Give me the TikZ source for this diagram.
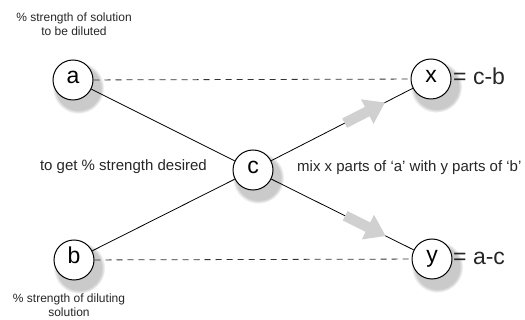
\documentclass[tikz,border=0pt]{standalone}
\usepackage{fontspec}
\setmainfont{Liberation Sans}
\usetikzlibrary{shadows,arrows.meta,calc}
\definecolor{arrowgray}{HTML}{D0D0D0}
\definecolor{dashgray}{HTML}{333333}
\tikzset{
  ball/.style={circle,draw=black,line width=1pt,fill=white,minimum size=40pt,inner sep=0pt,
    text height=12pt,text depth=4pt,font=\fontsize{23}{23}\selectfont,
    circular drop shadow={shadow xshift=4pt,shadow yshift=-6pt,shadow scale=1.3,opacity=0.42}},
  solid link/.style={line width=0.8pt,black},
  dash link/.style={line width=0.8pt,dashgray,dash pattern=on 6pt off 5pt},
  flow arrow/.style={line width=10.5pt,arrowgray,-{Triangle[width=26pt,length=20pt]}},
  smalltext/.style={font=\fontsize{12}{14.5}\selectfont,align=center,inner sep=0pt,text=black!85},
  midtext/.style={font=\fontsize{15}{17}\selectfont,inner sep=0pt,text=black!85},
  bigtext/.style={font=\fontsize{23}{23}\selectfont,inner sep=0pt,text=black!85}
}
\begin{document}
\begin{tikzpicture}[x=1pt,y=-1pt]
\useasboundingbox (0,0) rectangle (525,320);
\coordinate (pa) at (73,80);
\coordinate (pb) at (74,260);
\coordinate (pc) at (253,170);
\coordinate (px) at (431,79);
\coordinate (py) at (432,259);
\node[ball] (a) at (pa) {a};
\node[ball] (b) at (pb) {b};
\node[ball] (c) at (pc) {c};
\node[ball] (x) at (px) {x};
\node[ball] (y) at (py) {y};
\draw[dash link] (a) -- (x);
\draw[dash link] (b) -- (y);
\draw[solid link] (a) -- (c);
\draw[solid link] (b) -- (c);
\draw[solid link] (c) -- (x);
\draw[solid link] (c) -- (y);
\coordinate (s1) at ($(pc)!0.515!(px)$);
\coordinate (t1) at ($(pc)!0.742!(px)$);
\coordinate (s2) at ($(pc)!0.515!(py)$);
\coordinate (t2) at ($(pc)!0.742!(py)$);
\draw[flow arrow] (s1) -- (t1);
\draw[flow arrow] (s2) -- (t2);
% texts
\node[smalltext] (topl) at (74,24) {\% strength of solution\\to be diluted};
\node[smalltext] (botl) at (69,305) {\% strength of diluting\\solution};
\node[midtext,anchor=east] (left) at (207,166.5) {to get \% strength desired};
\node[midtext,anchor=west] (right) at (297,167.5) {mix x parts of ‘a’ with y parts of ‘b’};
\node[bigtext,anchor=base west] (eqx) at (453,84.5) {= c-b};
\node[bigtext,anchor=base west] (eqy) at (453,264.5) {= a-c};
\end{tikzpicture}
\end{document}
